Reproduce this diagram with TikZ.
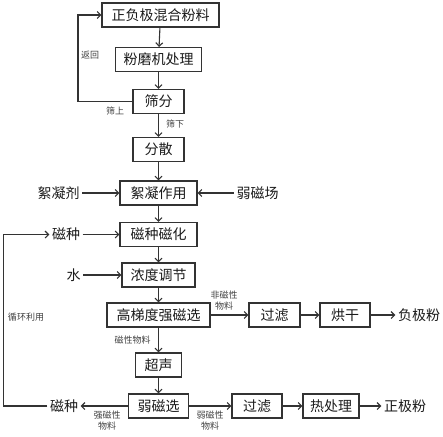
\documentclass[tikz,border=0pt]{standalone}
\usepackage{fontspec}
\setmainfont{Noto Sans CJK SC}
\usetikzlibrary{arrows.meta}
\definecolor{linec}{HTML}{333333}
\definecolor{txt}{HTML}{1A1A1A}
\definecolor{txtsmall}{HTML}{404040}
\begin{document}
\begin{tikzpicture}[x=1pt,y=-1pt,
  box/.style={draw=linec, line width=1.1pt, minimum height=24pt, inner sep=0pt,
    font=\fontsize{14}{14}\selectfont, text=txt},
  side/.style={font=\fontsize{14}{14}\selectfont, text=txt, inner sep=2.5pt},
  small/.style={font=\fontsize{9}{11}\selectfont, text=txtsmall, inner sep=0pt, align=center},
  arr/.style={draw=linec, line width=1.1pt, -{Straight Barb[length=3.5pt,width=7pt]}},
  ln/.style={draw=linec, line width=1.1pt}]
\useasboundingbox (0,0) rectangle (443,436);
% main column
\node[box, minimum width=117pt] (b1) at (160.5,15) {正负极混合粉料};
\node[box, minimum width=86pt] (b2) at (158.5,59.5) {粉磨机处理};
\node[box, minimum width=51pt] (b3) at (158.5,101.5) {筛分};
\node[box, minimum width=51pt] (b4) at (158.5,149.5) {分散};
\node[box, minimum width=77pt] (b5) at (158.5,193) {絮凝作用};
\node[box, minimum width=77pt] (b6) at (158.5,234.5) {磁种磁化};
\node[box, minimum width=73pt] (b7) at (158.5,275) {浓度调节};
\node[box, minimum width=103pt] (b8) at (158.5,315) {高梯度强磁选};
\node[box, minimum width=46pt] (b9) at (158.5,365) {超声};
\node[box, minimum width=60pt] (b10) at (158.5,406) {弱磁选};
% right rows
\node[box, minimum width=51pt] (r1) at (274.5,315) {过滤};
\node[box, minimum width=50pt] (r2) at (345,315) {烘干};
\node[side] (r3) at (419,315) {负极粉};
\node[box, minimum width=50pt] (s1) at (257,406) {过滤};
\node[box, minimum width=56pt] (s2) at (331,406) {热处理};
\node[side] (s3) at (405,406) {正极粉};
% side inputs
\node[side] (t1) at (58.5,193) {絮凝剂};
\node[side] (t2) at (257.5,193) {弱磁场};
\node[side] (t3) at (66,234.5) {磁种};
\node[side] (t4) at (73.5,275) {水};
\node[side] (t5) at (64,406) {磁种};
% main arrows
\draw[arr] (b1) -- (b2);
\draw[arr] (b2) -- (b3);
\draw[arr] (b3) -- (b4);
\draw[arr] (b4) -- (b5);
\draw[arr] (b5) -- (b6);
\draw[arr] (b6) -- (b7);
\draw[arr] (b7) -- (b8);
\draw[arr] (b8) -- (b9);
\draw[arr] (b9) -- (b10);
\draw[arr] (b8) -- (r1);
\draw[arr] (r1) -- (r2);
\draw[arr] (r2) -- (r3);
\draw[arr] (b10) -- (s1);
\draw[arr] (s1) -- (s2);
\draw[arr] (s2) -- (s3);
\draw[arr] (b10) -- (t5);
\draw[arr] (t1) -- (b5);
\draw[arr] (t2) -- (b5);
\draw[arr] (t3) -- (b6);
\draw[arr] (t4) -- (b7);
% loops
\coordinate (cl) at (78,0);
\draw[arr] (b3.west) -- (b3.west -| cl) -- (b1.west -| cl) -- (b1.west);
\coordinate (cr) at (3.5,0);
\draw[arr] (t5.west) -- (t5.west -| cr) -- (t3.west -| cr) -- (t3.west);
% small labels
\node[small] (l1) at (90,55) {返回};
\node[small] (l2) at (115,111) {筛上};
\node[small] (l3) at (175,124) {筛下};
\node[small] (l4) at (224,301) {非磁性\\物料};
\node[small] (l5) at (132.5,340) {磁性物料};
\node[small] (l6) at (107,420.5) {强磁性\\物料};
\node[small] (l7) at (210,420.5) {弱磁性\\物料};
\node[small] (l8) at (26,317) {循环利用};
\end{tikzpicture}
\end{document}
